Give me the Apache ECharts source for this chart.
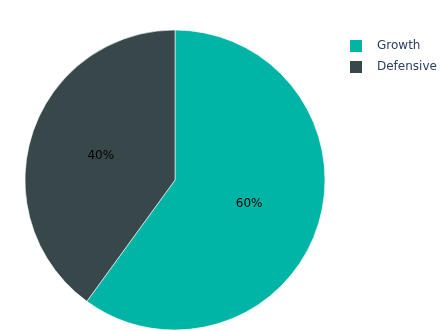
<!DOCTYPE html>
<html><head><meta charset="utf-8">
<script src="https://cdn.jsdelivr.net/npm/echarts@6/dist/echarts.min.js"></script>
<style>html,body{margin:0;padding:0;background:#fff}#c{width:441px;height:331px}</style>
</head><body><div id="c"></div>
<script>
const categories = ["Growth", "Defensive"];
const values = [60, 40];
const colors = ["#00b5a6", "#37474a"];

const chart = echarts.init(document.getElementById('c'), null, {renderer: 'canvas'});
chart.setOption({
  animation: false,
  color: colors,
  textStyle: {fontFamily: 'DejaVu Sans'},
  legend: {
    orient: 'vertical',
    left: 345, top: 34,
    itemWidth: 12, itemHeight: 12, itemGap: 7,
    icon: 'rect',
    itemStyle: {borderWidth: 0},
    textStyle: {color: '#2a3f5f', fontSize: 12, lineHeight: 14, fontFamily: 'DejaVu Sans', padding: [0,0,0,10]},
    data: categories
  },
  series: [{
    type: 'pie',
    center: [175, 180],
    radius: [0, 150],
    startAngle: 90,
    clockwise: true,
    itemStyle: {borderColor: '#ffffff', borderWidth: 0.6},
    label: {
      position: 'inside',
      formatter: p => p.percent.toFixed(0) + '%',
      color: '#000', fontSize: 12, fontFamily: 'DejaVu Sans'
    },
    labelLine: {show: false},
    emphasis: {disabled: true},
    data: categories.map((c, i) => ({name: c, value: values[i]}))
  }]
});
</script></body></html>
